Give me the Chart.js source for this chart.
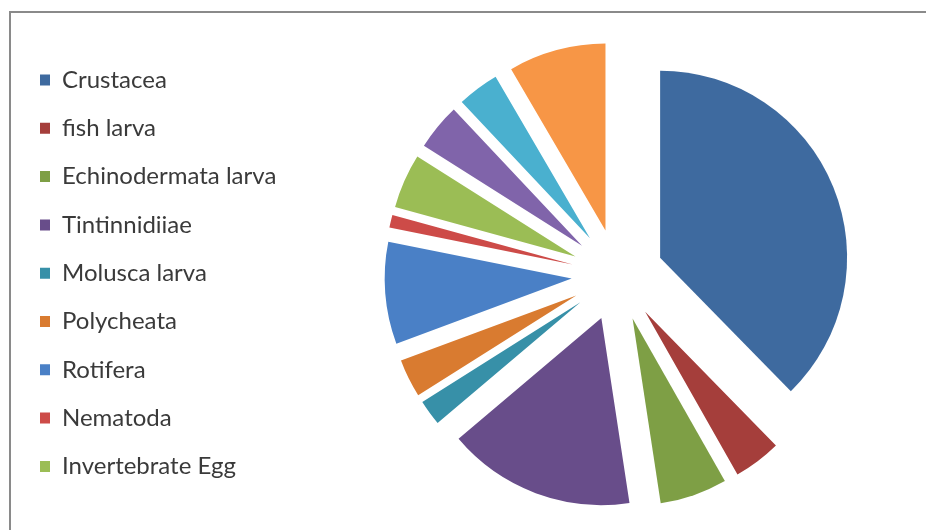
<!DOCTYPE html>
<html>
<head>
<meta charset="utf-8">
<script src="https://cdn.jsdelivr.net/npm/chart.js@4.4.1/dist/chart.umd.min.js"></script>
<style>
  html, body { margin: 0; padding: 0; background: #ffffff; overflow: hidden; }
  #frame { position: absolute; left: 9px; top: 11px; width: 940px; height: 540px;
           border-top: 2px solid #8a8a8a; border-left: 2px solid #8a8a8a; box-sizing: border-box; }
  #c { position: absolute; left: 0; top: 0; }
</style>
</head>
<body>
<div id="frame"></div>
<canvas id="c" width="926" height="530"></canvas>
<script>
// Categories (only the first nine appear in the original legend)
const categories = [
  "Crustacea", "fish larva", "Echinodermata larva", "Tintinnidiiae",
  "Molusca larva", "Polycheata", "Rotifera", "Nematoda", "Invertebrate Egg",
  "Unlabelled 10", "Unlabelled 11", "Unlabelled 12"
];
// Share of each category (%)
const shares = [37.6, 4.1, 5.8, 16.2, 2.2, 3.3, 8.8, 1.1, 4.7, 4.0, 3.6, 8.4];
const sliceColors = [
  "#3E6A9F", "#A53E3B", "#7E9F45", "#684D8A", "#3790A8", "#D97B30",
  "#4A80C6", "#CD4B48", "#9BBD55", "#8064AA", "#4AB0CF", "#F79646"
];
const legendCount = 9;
const explode = 46;

// Keep the legend box at a fixed width so the pie sits where the original does
const widenLegend = {
  id: 'widenLegend',
  afterInit(chart) {
    const lg = chart.legend;
    if (lg) {
      const orig = lg.fit;
      lg.fit = function () { orig.call(this); this.width = 293.3; };
    }
  }
};

// Excel-style explosion: every slice moved outward along its bisector, same radius
const explodeSlices = {
  id: 'explodeSlices',
  beforeDatasetsDraw(chart) {
    const ctx = chart.ctx;
    const meta = chart.getDatasetMeta(0);
    meta.data.forEach((arc) => {
      const mid = (arc.startAngle + arc.endAngle) / 2;
      ctx.save();
      ctx.translate(Math.cos(mid) * explode, Math.sin(mid) * explode);
      arc.draw(ctx);
      ctx.restore();
    });
    return false;
  }
};

new Chart(document.getElementById('c'), {
  type: 'pie',
  data: {
    labels: categories,
    datasets: [{
      data: shares,
      backgroundColor: sliceColors,
      borderWidth: 0,
      offset: 0,
      clip: false
    }]
  },
  options: {
    responsive: false,
    animation: false,
    radius: 187,
    layout: { padding: { left: 15.7, top: 43.7, right: 0, bottom: 23.7 } },
    plugins: {
      tooltip: { enabled: false },
      legend: {
        position: 'left',
        align: 'start',
        labels: {
          filter: (item) => item.index < legendCount,
          boxWidth: 10,
          boxHeight: 11,
          padding: 24.3,
          color: '#3a3a3a',
          font: { family: 'Lato', size: 24 }
        }
      }
    }
  },
  plugins: [widenLegend, explodeSlices]
});
</script>
</body>
</html>
